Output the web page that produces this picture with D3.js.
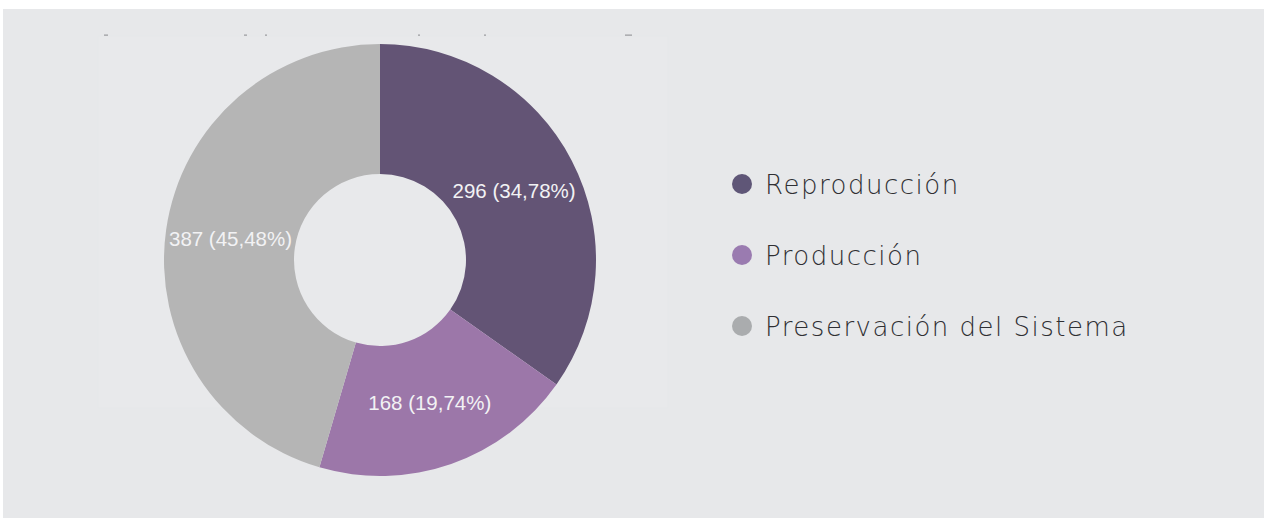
<!DOCTYPE html>
<html>
<head>
<meta charset="utf-8">
<script src="https://cdn.jsdelivr.net/npm/d3@7"></script>
<style>
  html, body { margin: 0; padding: 0; background: #ffffff; }
  svg { display: block; }
</style>
</head>
<body>
<svg id="chart" width="1264" height="518"></svg>
<script>
const categories = ["Reproducción", "Producción", "Preservación del Sistema"];
const values = [296, 168, 387];
const percentLabels = ["34,78%", "19,74%", "45,48%"];
const sliceColors = ["#635475", "#9c77a9", "#b5b5b5"];
const legendColors = ["#5f5677", "#9a7bb0", "#aaacae"];

const svg = d3.select("#chart");
const W = 1264, H = 518;

// background panel
svg.append("rect").attr("x", 3).attr("y", 9).attr("width", W - 3).attr("height", H - 9).attr("fill", "#e7e8ea");
// subtle plot area
svg.append("rect").attr("x", 98).attr("y", 36).attr("width", 570).attr("height", 372)
  .attr("fill", "#e8e9eb").attr("stroke", "#e6e7e9").attr("stroke-width", 1);

// clipped title remnants (tiny marks)
const remnantX = [105, 245, 266, 419, 485, 626];
const remnantW = [4, 3, 2, 2, 2, 7];
svg.append("g").selectAll("rect").data(remnantX).join("rect")
  .attr("x", (d) => d - 1).attr("y", 34.6).attr("width", (d, i) => remnantW[i]).attr("height", 1)
  .attr("fill", "#8a8a8e");

const cx = 380, cy = 260, outerR = 216, innerR = 86;
const pie = d3.pie().sort(null).value(d => d.value);
const data = categories.map((c, i) => ({ name: c, value: values[i], pct: percentLabels[i], i }));
const arcs = pie(data);
const arc = d3.arc().innerRadius(innerR).outerRadius(outerR);
const labelArc = d3.arc().innerRadius((innerR + outerR) / 2).outerRadius((innerR + outerR) / 2);

const g = svg.append("g").attr("transform", `translate(${cx},${cy})`);
g.selectAll("path").data(arcs).join("path")
  .attr("d", arc)
  .attr("fill", d => sliceColors[d.data.i]);

g.selectAll("text").data(arcs).join("text")
  .attr("transform", d => `translate(${labelArc.centroid(d)})`)
  .attr("text-anchor", "middle")
  .attr("dy", "0.36em")
  .attr("fill", "#f2f2f4")
  .attr("font-family", "'Liberation Sans', Arial, sans-serif")
  .attr("font-size", 20.5)
  .text(d => `${d.data.value} (${d.data.pct})`);

// legend
const legendY = d3.scalePoint().domain(categories).range([184, 326]);
const lg = svg.append("g");
const items = lg.selectAll("g").data(data).join("g")
  .attr("transform", d => `translate(742,${legendY(d.name)})`);
items.append("circle").attr("r", 10).attr("fill", d => legendColors[d.i]);
items.append("text")
  .attr("x", 23)
  .attr("y", 10)
  .attr("fill", "#2f2f33")
  .attr("font-family", "'DejaVu Sans', sans-serif")
  .attr("font-weight", 200)
  .attr("font-size", 26)
  .attr("letter-spacing", "1.5px")
  .text(d => d.name);
</script>
</body>
</html>
